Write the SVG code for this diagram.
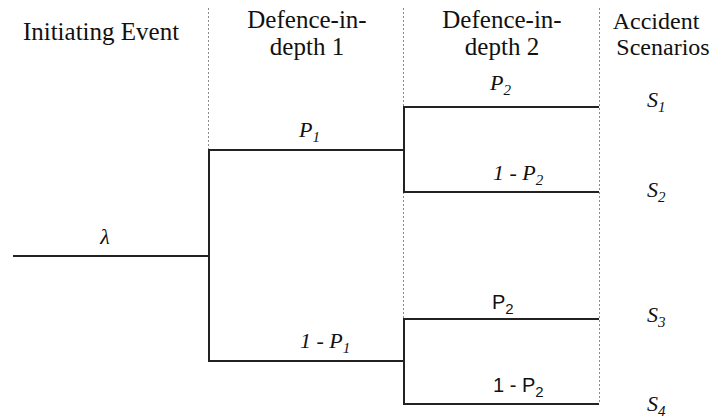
<svg xmlns="http://www.w3.org/2000/svg" width="713" height="419" viewBox="0 0 713 419">
<style>
.hdr{font-family:'Liberation Serif','Times New Roman',serif;font-size:25px;fill:#111;text-anchor:middle}
.hdr4{font-size:24px}
.lbl{font-family:'Liberation Serif','Times New Roman',serif;font-size:22px;font-style:italic;fill:#111}
.sans{font-family:'Liberation Sans',Arial,sans-serif;font-size:20px;fill:#111}
.sub{font-size:15px}
.div{stroke:#8a8a8a;stroke-width:1;stroke-dasharray:2,2;fill:none}
.br{stroke:#222;stroke-width:2;fill:none}
</style>
<rect width="713" height="419" fill="#fff"/>
<g id="dividers">
<line class="div" x1="208.5" y1="8" x2="208.5" y2="150"/>
<line class="div" x1="403.5" y1="8" x2="403.5" y2="404"/>
<line class="div" x1="599.5" y1="8" x2="599.5" y2="404"/>
</g>
<g id="headers">
<text class="hdr" x="101" y="40">Initiating Event</text>
<text class="hdr" x="307" y="28">Defence-in-</text>
<text class="hdr" x="307" y="55">depth 1</text>
<text class="hdr" x="502" y="28">Defence-in-</text>
<text class="hdr" x="502" y="55">depth 2</text>
<text class="hdr hdr4" x="656" y="29">Accident</text>
<text class="hdr hdr4" x="663" y="55">Scenarios</text>
</g>
<g id="connectors">
<path class="br" d="M13,256 H209"/>
<path class="br" d="M404,150 H209 V361 H404"/>
<path class="br" d="M599,107 H404 V192 H599"/>
<path class="br" d="M599,319 H404 V404 H599"/>
</g>
<g id="initiating-event">
<text class="lbl" x="105" y="244" text-anchor="middle">λ</text>
</g>
<g id="did1-success">
<text class="lbl" x="299" y="137">P<tspan class="sub" dy="5">1</tspan></text>
</g>
<g id="did1-failure">
<text class="lbl" x="300" y="348">1 - P<tspan class="sub" dy="5">1</tspan></text>
</g>
<g id="did2-upper-success">
<text class="lbl" x="490" y="90">P<tspan class="sub" dy="5">2</tspan></text>
</g>
<g id="did2-upper-failure">
<text class="lbl" x="493" y="180">1 - P<tspan class="sub" dy="5">2</tspan></text>
</g>
<g id="did2-lower-success">
<text class="sans" x="492" y="309">P<tspan class="sub" dy="5">2</tspan></text>
</g>
<g id="did2-lower-failure">
<text class="sans" x="493" y="392">1 - P<tspan class="sub" dy="5">2</tspan></text>
</g>
<g id="scenario-s1"><text class="lbl" x="647" y="107">S<tspan class="sub" dy="5">1</tspan></text></g>
<g id="scenario-s2"><text class="lbl" x="647" y="197">S<tspan class="sub" dy="5">2</tspan></text></g>
<g id="scenario-s3"><text class="lbl" x="647" y="322">S<tspan class="sub" dy="5">3</tspan></text></g>
<g id="scenario-s4"><text class="lbl" x="647" y="411">S<tspan class="sub" dy="5">4</tspan></text></g>
</svg>
